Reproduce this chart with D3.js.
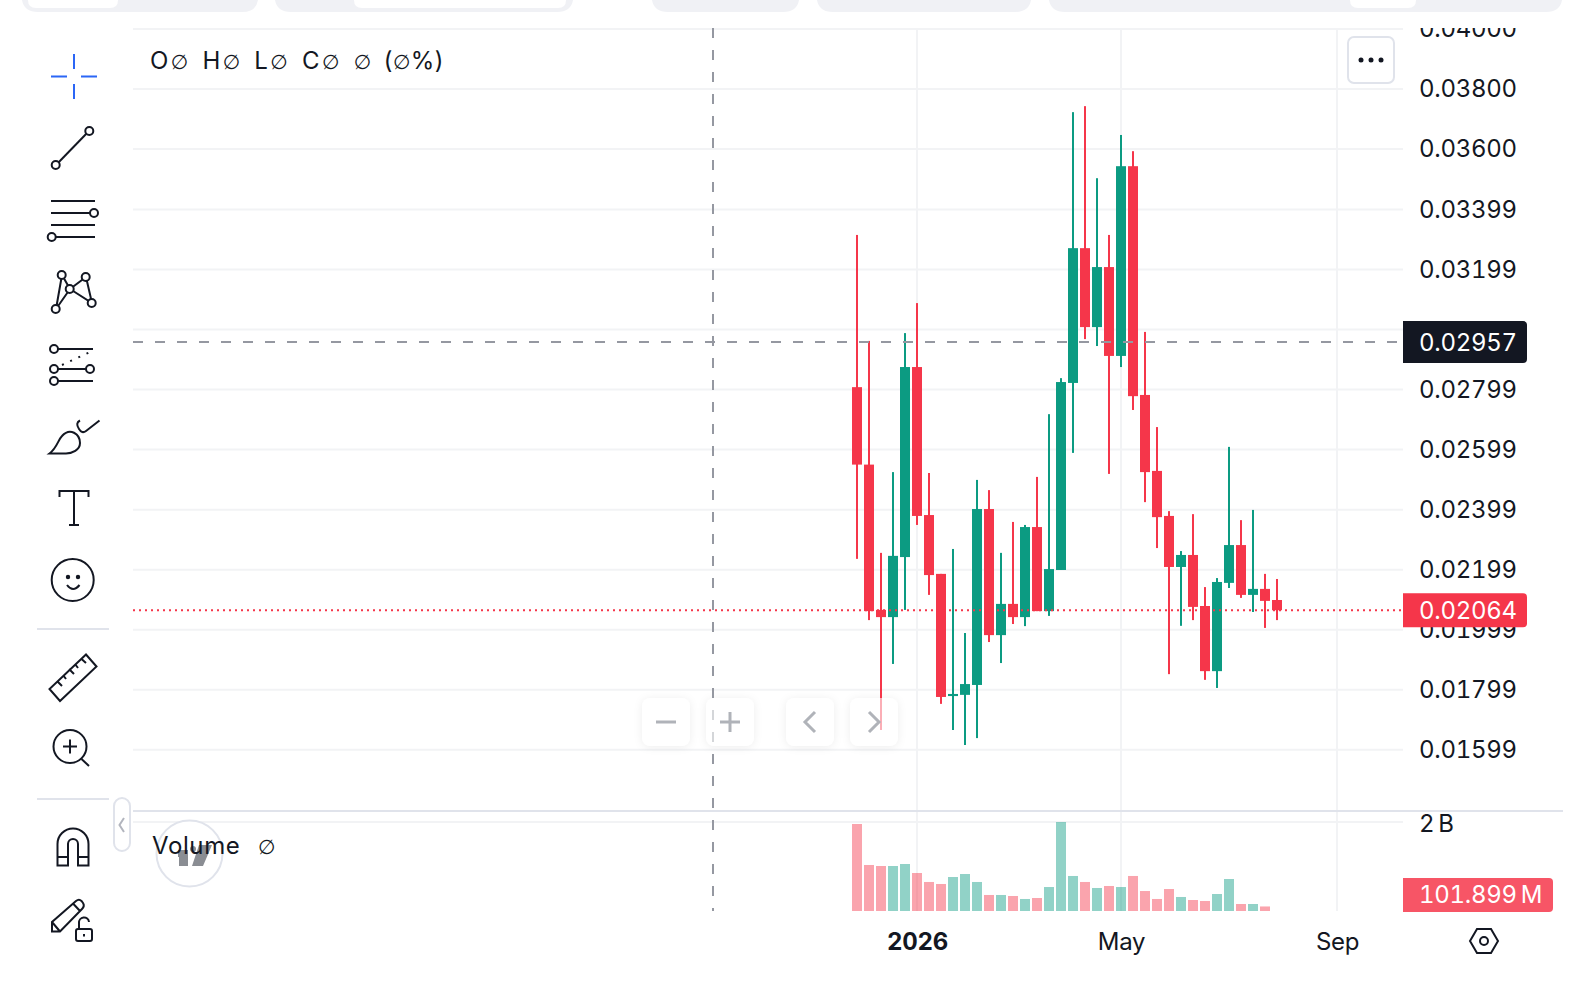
<!DOCTYPE html>
<html>
<head>
<meta charset="utf-8" />
<title>Candles</title>
<style>
  html, body { margin: 0; background: #fff; }
  svg { display: block; }
  text { font-family: Inter, sans-serif; font-size: 24px; fill: #131722; font-variant-numeric: tabular-nums; font-feature-settings: "tnum"; letter-spacing: -0.3px; }
  .icon { fill: none; stroke: #131722; stroke-width: 2; }
  .icon circle { fill: #fff; }
  .tick line, .domain { display: none; }
</style>
</head>
<body>
<svg width="1586" height="984"></svg>
<script src="https://d3js.org/d3.v7.min.js"></script>
<script>
// weekly candles
const firstWeek = "2025-12-01";
const opens = [0.02807,0.02549,0.02065,0.02041,0.02241,0.02874,0.02381,0.02185,0.01778,0.01782,0.01815,0.02401,0.01981,0.02085,0.02041,0.02341,0.02061,0.02198,0.02821,0.03270,0.03007,0.03207,0.02911,0.03543,0.02781,0.02528,0.02378,0.02208,0.02248,0.02078,0.01861,0.02155,0.02281,0.02115,0.02135,0.02098];
const highs = [0.03314,0.02961,0.02255,0.02524,0.02987,0.03087,0.02521,0.02185,0.02268,0.01988,0.02498,0.02464,0.02255,0.02358,0.02348,0.02508,0.02717,0.02837,0.03723,0.03743,0.03503,0.03314,0.03647,0.03593,0.02991,0.02674,0.02394,0.02261,0.02384,0.02141,0.02171,0.02608,0.02364,0.02398,0.02185,0.02168];
const lows = [0.02235,0.02031,0.01665,0.01885,0.02065,0.02348,0.02115,0.01752,0.01665,0.01615,0.01638,0.01958,0.01888,0.02018,0.02011,0.02061,0.02045,0.02198,0.02588,0.02967,0.02944,0.02518,0.02874,0.02731,0.02424,0.02271,0.01851,0.02012,0.02031,0.01832,0.01805,0.02138,0.02105,0.02058,0.02005,0.02031];
const closes = [0.02549,0.02061,0.02041,0.02245,0.02874,0.02378,0.02181,0.01775,0.01785,0.01818,0.02401,0.01981,0.02085,0.02041,0.02341,0.02061,0.02201,0.02824,0.03270,0.03007,0.03207,0.02911,0.03543,0.02777,0.02524,0.02374,0.02208,0.02248,0.02075,0.01861,0.02158,0.02281,0.02115,0.02135,0.02095,0.02064];
// volume in millions, the last week has no bar yet
const volumes = [1955,1034,1011,1011,1056,854,652,607,764,831,652,360,360,337,270,292,539,2000,787,652,517,562,539,787,449,270,494,315,247,225,382,719,157,157,101.899];

const gridTicks = [0.04,0.038,0.036,0.03399,0.03199,0.02999,0.02799,0.02599,0.02399,0.02199,0.01999,0.01799,0.01599];
// 0.02999 sits behind the crosshair pill, so it has a grid line but no label
const priceLabels = [0.04,0.038,0.036,0.03399,0.03199,0.02799,0.02599,0.02399,0.02199,0.01999,0.01799,0.01599];
const timeTicks = ["2026-01-05","2026-05-04","2026-09-07"];
const timeLabels = ["2026","May","Sep"];
const crossPrice = 0.02957;
const crossDate = "2025-09-08";
const lastPrice = 0.02064;
const lastVolumeLabel = "101.899\u2009M";

const RED = "#f5364a", GREEN = "#0c9b82", GRID = "#f2f3f5", LINE = "#e0e3eb";

const svg = d3.select("svg");
const parse = d3.utcParse("%Y-%m-%d");
const weeks = opens.map((_, i) => d3.utcMonday.offset(parse(firstWeek), i));

const x = d3.scaleUtc().domain([parse(firstWeek), parse(timeTicks[2])]).range([857, 1337]);
const y = d3.scaleLinear().domain([0.016, 0.04]).range([749.5, 29]);
const yVol = d3.scaleLinear().domain([0, 2000]).range([911, 822]);

// top tabs
const tabs = [[22,258],[275,573],[652,799],[817,1031],[1049,1562]];
const tabInner = [[28,118],[354,566],[1350,1416]];
svg.append("g").selectAll("path").data(tabs).join("path")
  .attr("d", d => `M${d[0]},0 Q${d[0]+2},12 ${d[0]+16},12 H${d[1]-16} Q${d[1]-2},12 ${d[1]},0 Z`)
  .attr("fill", "#f0f1f5");
svg.append("g").selectAll("path").data(tabInner).join("path")
  .attr("d", d => `M${d[0]},0 Q${d[0]},8 ${d[0]+8},8 H${d[1]-8} Q${d[1]},8 ${d[1]},0 Z`)
  .attr("fill", "#fff");

// grid
const gridX0 = 133, gridX1 = 1403;
svg.append("g").selectAll("line").data(gridTicks).join("line")
  .attr("x1", gridX0).attr("x2", gridX1)
  .attr("y1", d => y(d)).attr("y2", d => y(d))
  .attr("stroke", GRID).attr("stroke-width", 2);
svg.append("line").attr("x1", gridX0).attr("x2", gridX1)
  .attr("y1", yVol(2000)).attr("y2", yVol(2000)).attr("stroke", GRID).attr("stroke-width", 2);
svg.append("g").selectAll("line").data(timeTicks).join("line")
  .attr("x1", d => x(parse(d))).attr("x2", d => x(parse(d)))
  .attr("y1", 29).attr("y2", 911)
  .attr("stroke", GRID).attr("stroke-width", 2);
svg.append("line").attr("x1", gridX0).attr("x2", 1563).attr("y1", 811).attr("y2", 811)
  .attr("stroke", LINE).attr("stroke-width", 2);

// zoom / scroll buttons: white base with the shadow goes under the candles
const buttons = [642, 706, 786, 850];
svg.append("g").selectAll("rect").data(buttons).join("rect")
  .attr("x", d => d).attr("y", 698).attr("width", 48).attr("height", 48).attr("rx", 8)
  .attr("fill", "#fff")
  .style("filter", "drop-shadow(0 1px 4px rgba(0,0,0,0.07))");

// volume bars
svg.append("g").selectAll("rect").data(volumes).join("rect")
  .attr("x", (d, i) => x(weeks[i]) - 5)
  .attr("width", 10)
  .attr("y", d => yVol(d))
  .attr("height", d => yVol(0) - yVol(d))
  .attr("fill", (d, i) => closes[i] < opens[i] ? RED : GREEN)
  .attr("fill-opacity", 0.45);

// candles
const candles = svg.append("g").selectAll("g").data(opens).join("g")
  .attr("fill", (d, i) => closes[i] < opens[i] ? RED : GREEN);
candles.append("rect")
  .attr("x", (d, i) => x(weeks[i]) - 1)
  .attr("width", 2)
  .attr("y", (d, i) => y(highs[i]))
  .attr("height", (d, i) => y(lows[i]) - y(highs[i]));
candles.append("rect")
  .attr("x", (d, i) => x(weeks[i]) - 5)
  .attr("width", 10)
  .attr("y", (d, i) => y(Math.max(opens[i], closes[i])))
  .attr("height", (d, i) => Math.max(2, Math.abs(y(opens[i]) - y(closes[i]))));

// last price + crosshair
svg.append("line").attr("x1", gridX0).attr("x2", gridX1)
  .attr("y1", y(lastPrice)).attr("y2", y(lastPrice))
  .attr("stroke", RED).attr("stroke-width", 2).attr("stroke-dasharray", "2 4");
svg.append("line").attr("x1", gridX0).attr("x2", gridX1)
  .attr("y1", y(crossPrice)).attr("y2", y(crossPrice))
  .attr("stroke", "#9598a1").attr("stroke-width", 2).attr("stroke-dasharray", "10 12");
svg.append("line").attr("x1", x(parse(crossDate))).attr("x2", x(parse(crossDate)))
  .attr("y1", 28).attr("y2", 911)
  .attr("stroke", "#9598a1").attr("stroke-width", 2).attr("stroke-dasharray", "10 12");

// price axis, clipped at the top of the pane
svg.append("clipPath").attr("id", "axisClip").append("rect")
  .attr("x", 1403).attr("y", 28).attr("width", 180).attr("height", 790);
svg.append("g")
  .attr("clip-path", "url(#axisClip)")
  .append("g")
  .attr("transform", "translate(1419,0)")
  .call(d3.axisRight(y).tickValues(priceLabels).tickFormat(d3.format(".5f")).tickSize(0).tickPadding(0));
svg.append("text").attr("x", 1419).attr("y", yVol(2000) + 1.5).attr("dy", "0.35em").text("2\u2009B");

// time axis
const timeAxis = svg.append("g")
  .attr("transform", "translate(0,921)")
  .call(d3.axisBottom(x).tickValues(timeTicks.map(parse)).tickFormat((d, i) => timeLabels[i]).tickSize(0).tickPadding(0));
timeAxis.selectAll("text")
  .attr("y", 21).attr("dy", "0.35em")
  .style("font-weight", (d, i) => i === 0 ? 700 : 400);
svg.selectAll(".tick text").style("font-family", "Inter, sans-serif").style("font-size", "24px").style("fill", "#131722");

// axis labels in pills
function pill(x0, x1, yc, h, color, label) {
  svg.append("path")
    .attr("d", `M${x0},${yc-h} H${x1-4} Q${x1},${yc-h} ${x1},${yc-h+4} V${yc+h-4} Q${x1},${yc+h} ${x1-4},${yc+h} H${x0} Z`)
    .attr("fill", color);
  svg.append("text").attr("x", 1419).attr("y", yc).attr("dy", "0.35em").style("fill", "#fff").text(label);
}
pill(1403, 1527, y(crossPrice), 21, "#131722", crossPrice.toFixed(5));
pill(1403, 1527, y(lastPrice), 17, RED, lastPrice.toFixed(5));
pill(1403, 1553, 895, 17, "#f75566", lastVolumeLabel);

// legends, the empty-value sign comes from DejaVu like a wider glyph
function legend(px, py, str, spacing) {
  const t = svg.append("text").attr("x", px).attr("y", py)
    .style("letter-spacing", spacing + "px").style("word-spacing", "3px");
  str.split(/(\u2205)/).forEach(part => {
    const s = t.append("tspan").text(part);
    if (part === "\u2205") s.style("font-family", "DejaVu Sans").style("font-size", "20px");
    if (part.includes("(")) spacing = 0.3;
    s.style("letter-spacing", spacing + "px");
  });
}
legend(150, 69, "O\u2205 H\u2205 L\u2205 C\u2205 \u2205 (\u2205%)", 2.4);

svg.append("circle").attr("cx", 189.5).attr("cy", 853.5).attr("r", 33).attr("fill", "#fff").attr("stroke", LINE).attr("stroke-width", 2);
svg.append("path").attr("d", "M178,850 H188 V866 H179 V857 H178 Z M199,845 H212 L203,866 H192 Z").attr("fill", "#8a8d93");
svg.append("circle").attr("cx", 193).attr("cy", 849).attr("r", 3).attr("fill", "#8a8d93");
svg.append("text").attr("x", 152).attr("y", 854).style("letter-spacing", "0.6px").text("Volume");
legend(258, 854, "\u2205", 0);

// more button
svg.append("rect").attr("x", 1348).attr("y", 37).attr("width", 46).attr("height", 46).attr("rx", 6)
  .attr("fill", "#fff").attr("stroke", LINE).attr("stroke-width", 2);
svg.append("g").selectAll("circle").data([-10, 0, 10]).join("circle")
  .attr("cx", d => 1371 + d).attr("cy", 60).attr("r", 2.5).attr("fill", "#131722");

// the buttons wash out whatever crosses them, glyphs on top
svg.append("g").selectAll("rect").data(buttons).join("rect")
  .attr("x", d => d).attr("y", 698).attr("width", 48).attr("height", 48).attr("rx", 8)
  .attr("fill", "#fff").attr("fill-opacity", 0.6);
const btn = svg.append("g").attr("fill", "none").attr("stroke", "#b0b3b9").attr("stroke-width", 3);
btn.append("path").attr("d", "M656,722 H676");
btn.append("path").attr("d", "M720,722 H740 M730,712 V732");
btn.append("path").attr("d", "M815,712 L805,722 L815,732");
btn.append("path").attr("d", "M869,712 L879,722 L869,732");

// left toolbar
const tb = svg.append("g").attr("class", "icon");
tb.append("path").attr("d", "M74,54 V69 M74,84 V99 M51,76.5 H67 M81,76.5 H97").attr("stroke", "#2b66f6");
tb.append("path").attr("d", "M56,165 L89,131");
tb.append("path").attr("d", "M51,201 H95 M51,213 H90 M51,225 H95 M56,237 H95");
tb.append("path").attr("d", "M62,275 L56,309 L70,289 L62,275 M70,289 L86,277 L92,303 L70,289");
tb.append("path").attr("d", "M58,349 H93 M58,369 H86 M58,381 H93");
tb.append("path").attr("d", "M62,365 L90,352").attr("stroke-dasharray", "2 7");
tb.append("path").attr("d", "M49.5,453.5 C57,448 58,440 62,436 C70,427 80,434 80,443 C80,450 72,453.5 66,453.5 Z");
tb.append("path").attr("d", "M80,420.5 Q75,423 79,429 Q82,434 86,431 L99.5,420.5");
tb.append("path").attr("d", "M59.5,497 V491 H88.5 V497 M74,491 V525 M69,525 H79");
tb.append("circle").attr("cx", 72.7).attr("cy", 580).attr("r", 21);
tb.append("path").attr("d", "M67,585 Q73,593 79.5,585");
tb.append("path").attr("d", "M37,629 H109 M37,799 H109").attr("stroke", LINE);
tb.append("path").attr("d", "M86,654.5 L96.5,666.5 L60,701 L49.5,689 Z M57,681 L62,686 M63,675 L66,679 M69,669 L74,674 M75,664 L78,668 M81,658.5 L86,663");
tb.append("circle").attr("cx", 70).attr("cy", 746.5).attr("r", 16.5);
tb.append("path").attr("d", "M63,746.5 H77 M70,739.5 V753.5 M81.5,759 L89,766");
tb.append("path").attr("d", "M57.5,865.5 V844 A15.5,15.5 0 0 1 88.5,844 V865.5 H78 V844 A5,5 0 0 0 68,844 V865.5 Z M57.5,857 H68 M78,857 H88.5");
tb.append("path").attr("d", "M52,931.5 V922 L76,901 Q79,898.5 81.5,901 L83,903 Q85,906 82,909 L60,931.5 Z M52,922 L60,931.5 M73,903.5 L80,911");
tb.append("rect").attr("x", 76).attr("y", 929).attr("width", 16).attr("height", 12).attr("rx", 2);
tb.append("path").attr("d", "M79,929 V923 A5,5 0 0 1 89,922");
tb.append("path").attr("d", "M84,934 V936.5");

// toolbar knobs are drawn after the lines
const knobs = [[89.3,131],[55.7,165],[94,213],[51.7,237],[61.7,275],[85.7,277],[69.7,289],[91.7,303],[55.7,309],[54,349],[54,369],[90,369],[54,381]];
tb.append("g").selectAll("circle").data(knobs).join("circle")
  .attr("cx", d => d[0]).attr("cy", d => d[1]).attr("r", 4);
tb.append("g").selectAll("circle").data([[68,577],[78,577]]).join("circle")
  .attr("cx", d => d[0]).attr("cy", d => d[1]).attr("r", 1.2).style("fill", "#131722");

// collapse handle
svg.append("rect").attr("x", 114).attr("y", 798).attr("width", 16).attr("height", 53).attr("rx", 8)
  .attr("fill", "#fff").attr("stroke", LINE).attr("stroke-width", 2);
svg.append("path").attr("d", "M124,818 L119.5,825 L124,832").attr("fill", "none").attr("stroke", "#b2b5be").attr("stroke-width", 2);

// settings hexagon
const gear = svg.append("g").attr("class", "icon").attr("transform", "translate(1484,941)");
gear.append("path").attr("d", "M-14,0 L-7,-12 H7 L14,0 L7,12 H-7 Z");
gear.append("circle").attr("r", 4);
</script>
</body>
</html>
